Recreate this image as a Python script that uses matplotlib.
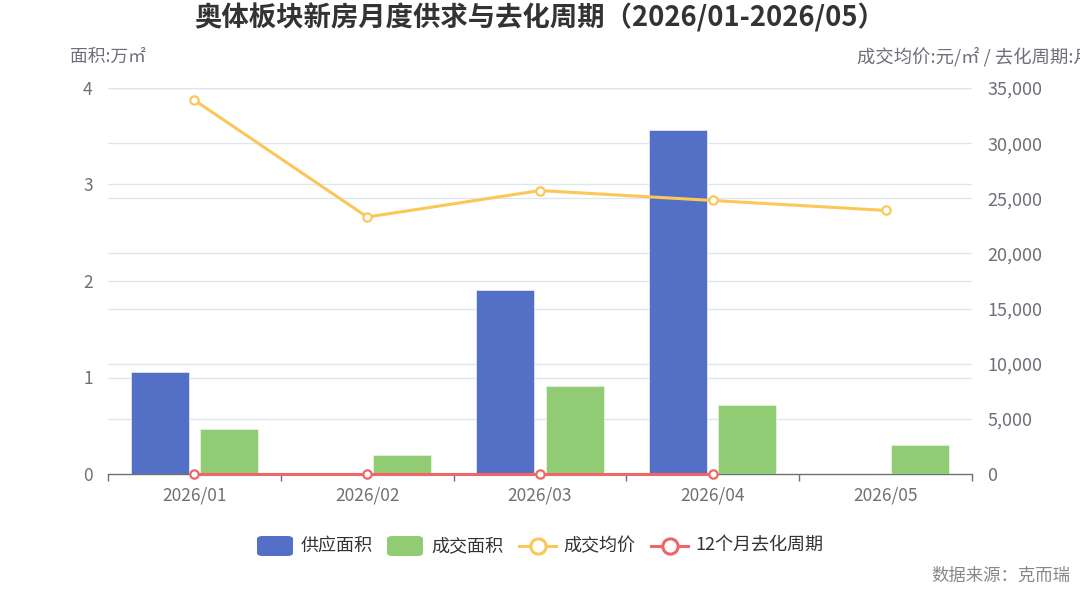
import matplotlib
matplotlib.use("Agg")
import matplotlib.pyplot as plt
from matplotlib.patches import FancyBboxPatch
from matplotlib.lines import Line2D
import matplotlib.transforms as mtransforms
from matplotlib.ticker import FuncFormatter

plt.rcParams['font.family'] = ['Noto Sans CJK SC', 'DejaVu Sans']

# ---- data ----
months = ["2026/01", "2026/02", "2026/03", "2026/04", "2026/05"]
supply_area = [1.06, 0, 1.91, 3.56, 0]          # 万㎡
deal_area = [0.47, 0.20, 0.91, 0.71, 0.30]      # 万㎡
avg_price = [33900, 23300, 25700, 24800, 23900]  # 元/㎡
destock_months = [0, 0, 0, 0]                    # 月 (01-04)
left_ticks = [0, 1, 2, 3, 4]
right_ticks = [0, 5000, 10000, 15000, 20000, 25000, 30000, 35000]

C_BLUE = "#5470C6"
C_GREEN = "#91CC75"
C_YELLOW = "#FAC858"
C_RED = "#EE6666"
C_AXIS = "#6E7079"
C_GRID = "#E0E6F1"

W, H = 1080, 593
fig = plt.figure(figsize=(10.8, 5.93), dpi=100)
ax1 = fig.add_axes([108 / W, 1 - 474 / H, (972 - 108) / W, (474 - 88) / H])
ax2 = ax1.twinx()

x = list(range(len(months)))
bw = 0.336
off = 0.2
ax1.bar([i - off for i in x], supply_area, width=bw, color=C_BLUE, zorder=3,
        edgecolor="#dfe5f7", linewidth=0.6)
ax1.bar([i + off for i in x], deal_area, width=bw, color=C_GREEN, zorder=3,
        edgecolor="#e6f4df", linewidth=0.6)

ax1.set_xlim(-0.5, len(months) - 0.5)
ax1.set_ylim(left_ticks[0], left_ticks[-1])
ax2.set_ylim(right_ticks[0], right_ticks[-1])

# grid lines (both axes) drawn beneath the bars
for v in left_ticks[1:]:
    ax1.axhline(v, color=C_GRID, lw=1.0, zorder=1)
blend = mtransforms.blended_transform_factory(ax1.transAxes, ax2.transData)
for v in right_ticks[1:]:
    ax1.add_line(Line2D([0, 1], [v, v], transform=blend, color=C_GRID, lw=1.0, zorder=1))

# lines
ax2.plot(x, avg_price, color=C_YELLOW, lw=2.2, marker="o", markersize=6,
         markerfacecolor="white", markeredgecolor=C_YELLOW, markeredgewidth=1.6,
         zorder=5, clip_on=False)
ax2.plot(x[:len(destock_months)], destock_months, color=C_RED, lw=2.2, marker="o",
         markersize=6, markerfacecolor="white", markeredgecolor=C_RED,
         markeredgewidth=1.6, zorder=6, clip_on=False)

# axes styling
for ax in (ax1, ax2):
    for s in ("left", "right", "top"):
        ax.spines[s].set_visible(False)
ax2.spines["bottom"].set_visible(False)
ax1.spines["bottom"].set_color(C_AXIS)
ax1.spines["bottom"].set_linewidth(1.0)

ax1.set_xticks(x)
ax1.set_xticklabels(months)
ax1.set_xticks([i - 0.5 for i in range(len(months) + 1)], minor=True)
ax1.tick_params(axis="x", which="major", length=0, pad=9, labelsize=12.5, labelcolor=C_AXIS)
ax1.tick_params(axis="x", which="minor", length=5, width=1, color=C_AXIS)

ax1.set_yticks(left_ticks)
ax1.tick_params(axis="y", length=0, pad=11, labelsize=12.5, labelcolor=C_AXIS)
ax2.set_yticks(right_ticks)
ax2.yaxis.set_major_formatter(FuncFormatter(lambda v, p: f"{int(v):,}"))
ax2.tick_params(axis="y", length=0, pad=11, labelsize=13, labelcolor=C_AXIS)

# title & axis names
fig.text(0.5, 1 - 18 / H, "奥体板块新房月度供求与去化周期（2026/01-2026/05）",
         ha="center", va="center", fontsize=19.7, fontweight="bold", color="#333333")
fig.text(70 / W, 1 - 57 / H, "面积:万㎡", ha="left", va="center",
         fontsize=12.8, color=C_AXIS)
fig.text(857 / W, 1 - 57 / H, "成交均价:元/㎡ / 去化周期:月", ha="left", va="center",
         fontsize=13.2, color=C_AXIS)

# legend (manual, echarts-like)
lyp = 546
ly = 1 - lyp / H

def rect_item(x0, color, label, tx):
    p = FancyBboxPatch((x0 / W, 1 - (lyp + 10) / H), 36 / W, 20 / H,
                       boxstyle="round,pad=0,rounding_size=0.005",
                       transform=fig.transFigure, facecolor=color, edgecolor="none")
    fig.patches.append(p)
    fig.text(tx / W, ly, label, ha="left", va="center", fontsize=13, color="#333333")

def line_item(x0, color, label, tx):
    fig.lines.append(Line2D([x0 / W, (x0 + 37) / W], [ly, ly], transform=fig.transFigure,
                            color=color, lw=2.2))
    fig.lines.append(Line2D([(x0 + 18.5) / W], [ly], transform=fig.transFigure,
                            marker="o", markersize=11, markerfacecolor="white",
                            markeredgecolor=color, markeredgewidth=2.2, lw=0))
    fig.text(tx / W, ly, label, ha="left", va="center", fontsize=13, color="#333333")

rect_item(257, C_BLUE, "供应面积", 301)
rect_item(387, C_GREEN, "成交面积", 431)
line_item(519, C_YELLOW, "成交均价", 563)
line_item(651, C_RED, "12个月去化周期", 695)

fig.text(1070 / W, 1 - 576 / H, "数据来源：克而瑞", ha="right", va="center",
         fontsize=12.5, color="#888888")

fig.savefig("out.png", dpi=100)
